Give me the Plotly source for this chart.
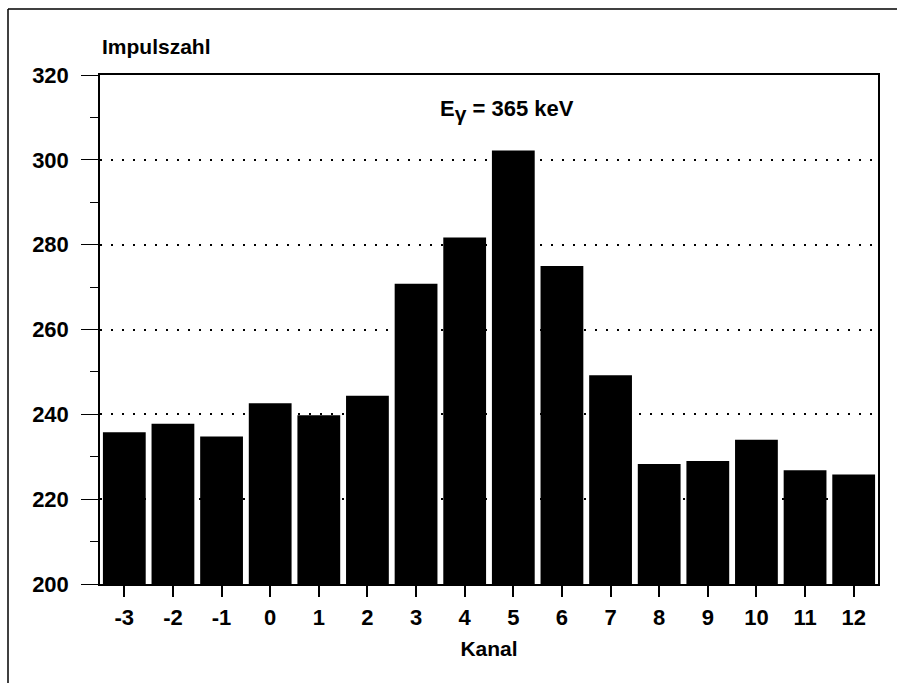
import plotly.graph_objects as go

kanal = [-3, -2, -1, 0, 1, 2, 3, 4, 5, 6, 7, 8, 9, 10, 11, 12]
impulse = [235.8, 237.8, 234.8, 242.6, 239.8, 244.4, 270.8, 281.7, 302.2, 275.0,
           249.2, 228.3, 229.0, 234.0, 226.8, 225.8]
y_ticks = [200, 220, 240, 260, 280, 300, 320]

W, H = 897, 683
L, R, T, B = 100, 19, 75, 99
FONT = dict(family="Liberation Sans, Arial, sans-serif", size=21, color="black", weight="bold")
TICKFONT = dict(family="Liberation Sans, Arial, sans-serif", size=22, color="black", weight="bold")

fig = go.Figure()
fig.add_trace(go.Bar(x=kanal, y=impulse, base=0, marker=dict(color="black", line=dict(width=0)),
                     hoverinfo="x+y"))

pw = W - L - R
ph = H - T - B
def px_x(p):
    return (p - L) / pw
def px_y(p):
    return (H - B - p) / ph

fig.update_layout(
    width=W, height=H,
    margin=dict(l=L, r=R, t=T, b=B, pad=0),
    paper_bgcolor="white", plot_bgcolor="white",
    font=FONT,
    bargap=0.12,
    showlegend=False,
    xaxis=dict(
        range=[-3.5, 12.5], tickmode="array", tickvals=kanal,
        ticktext=[str(k) for k in kanal],
        showgrid=False, zeroline=False,
        showline=True, linecolor="black", linewidth=1.5, mirror=True,
        ticks="outside", ticklen=11, tickwidth=1.5, tickcolor="black",
        tickfont=TICKFONT, ticklabelstandoff=2,
        title=dict(text="Kanal", font=FONT, standoff=12),
    ),
    yaxis=dict(
        range=[200, 320], tickmode="array", tickvals=y_ticks,
        showgrid=True, gridcolor="black", gridwidth=1.5, griddash="2px,9px",
        zeroline=False,
        showline=True, linecolor="black", linewidth=1.5, mirror=True,
        ticks="outside", ticklen=17, tickwidth=1.2, tickcolor="black",
        tickfont=TICKFONT, ticklabelstandoff=8,
        minor=dict(dtick=10, ticks="outside", ticklen=8, tickwidth=1.2, tickcolor="black", showgrid=False),
    ),
)

fig.add_annotation(text="Impulszahl", xref="paper", yref="paper",
                   x=px_x(100), y=px_y(46), xanchor="left", yanchor="middle",
                   showarrow=False, font=FONT)
fig.add_annotation(text="E<sub><span style='font-size:21px'>γ</span></sub> = 365 keV",
                   xref="paper", yref="paper",
                   x=px_x(507), y=px_y(110), xanchor="center", yanchor="middle",
                   showarrow=False, font=dict(FONT, size=22))

# outer frame of the scanned page
fig.add_shape(type="line", xref="paper", yref="paper",
              x0=px_x(8), x1=px_x(897), y0=px_y(9), y1=px_y(9),
              line=dict(color="black", width=1.5))
fig.add_shape(type="line", xref="paper", yref="paper",
              x0=px_x(8), x1=px_x(8), y0=px_y(9), y1=px_y(683),
              line=dict(color="black", width=1.5))

fig.write_html("out.html")
